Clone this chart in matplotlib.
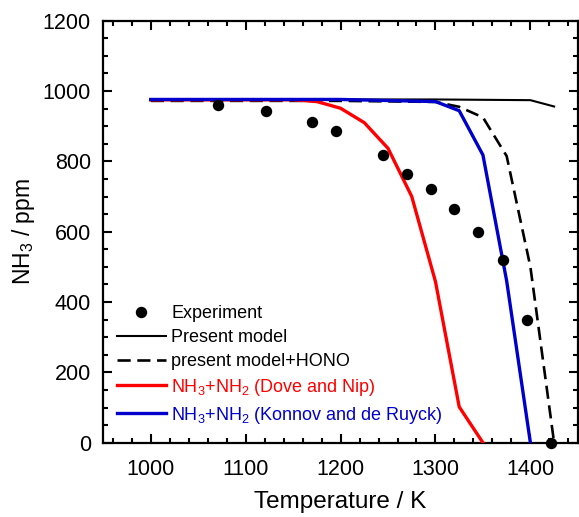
import numpy as np
import matplotlib
matplotlib.use("Agg")
import matplotlib.pyplot as plt
from matplotlib.ticker import MultipleLocator

# ------------------------------------------------------------
# Data
# ------------------------------------------------------------

# Experiment
exp_T = [1071, 1121, 1170, 1195, 1245, 1270, 1295, 1320, 1345, 1371, 1396, 1422]
exp_ppm = [959, 943, 913, 886, 817, 763, 720, 665, 598, 520, 348, 0]

# Present model
present_T = [1000, 1100, 1200, 1300, 1400, 1425]
present_ppm = [976, 976, 976, 976, 974, 956]

# Present model + HONO
hono_T = [1000, 1100, 1200, 1300, 1325, 1350, 1375, 1400, 1425]
hono_ppm = [972, 972, 972, 969, 955, 925, 815, 500, 0]

# NH3+NH2 (Dove and Nip)
dove_T = [1000, 1100, 1150, 1175, 1200, 1225, 1250, 1275, 1300, 1325, 1350]
dove_ppm = [975, 975, 975, 970, 951, 910, 837, 700, 458, 102, 0]

# NH3+NH2 (Konnov and de Ruyck)
konnov_T = [1000, 1100, 1200, 1300, 1325, 1350, 1375, 1400]
konnov_ppm = [976, 976, 976, 970, 944, 818, 460, 0]

labels = [
    "Experiment",
    "Present model",
    "present model+HONO",
    r"NH$_3$+NH$_2$ (Dove and Nip)",
    r"NH$_3$+NH$_2$ (Konnov and de Ruyck)",
]

RED = "#ff0000"
BLUE = "#0000cc"


def main() -> None:
    plt.rcParams["font.family"] = ["Liberation Sans", "DejaVu Sans"]
    plt.rcParams["mathtext.fontset"] = "custom"
    plt.rcParams["mathtext.rm"] = "Liberation Sans"
    plt.rcParams["mathtext.it"] = "Liberation Sans:italic"

    fig = plt.figure(figsize=(5.79, 5.17), dpi=100)
    ax = fig.add_axes([0.1784, 0.1437, 0.8196, 0.8163])

    ax.plot(exp_T, exp_ppm, "o", color="black", markersize=7.2,
            linestyle="none", label=labels[0], zorder=5, clip_on=False)
    ax.plot(present_T, present_ppm, "-", color="black", linewidth=1.5,
            label=labels[1], zorder=2)
    ax.plot(hono_T, hono_ppm, "--", color="black", linewidth=1.9,
            dashes=(5, 2.5), label=labels[2], zorder=2)
    ax.plot(dove_T, dove_ppm, "-", color=RED, linewidth=2.4,
            label=labels[3], zorder=3)
    ax.plot(konnov_T, konnov_ppm, "-", color=BLUE, linewidth=2.4,
            label=labels[4], zorder=4)

    ax.set_xlim(950, 1450)
    ax.set_ylim(0, 1200)
    ax.xaxis.set_major_locator(MultipleLocator(100))
    ax.xaxis.set_minor_locator(MultipleLocator(20))
    ax.yaxis.set_major_locator(MultipleLocator(200))
    ax.yaxis.set_minor_locator(MultipleLocator(50))
    ax.set_xticks([1000, 1100, 1200, 1300, 1400])

    for side in ax.spines.values():
        side.set_linewidth(1.6)

    ax.tick_params(which="both", direction="in", top=True, right=True,
                   width=1.5, labelsize=15.5)
    ax.tick_params(which="major", length=6.5)
    ax.tick_params(which="minor", length=3.5)
    ax.tick_params(axis="x", which="major", pad=12)
    ax.tick_params(axis="y", which="major", pad=9)

    ax.set_xlabel("Temperature / K", fontsize=17.5, labelpad=8)
    ax.set_ylabel(r"NH$_3$ / ppm", fontsize=16.5, labelpad=4)

    ax.legend(
        loc="upper left",
        bbox_to_anchor=(0.029, 0.326),
        frameon=False,
        fontsize=13,
        borderpad=0,
        borderaxespad=0,
        handlelength=2.7,
        handletextpad=0.3,
        labelspacing=0.38,
        labelcolor=["black", "black", "black", RED, BLUE],
    )

    fig.savefig("out.png", dpi=100)
    plt.close(fig)


if __name__ == "__main__":
    main()
